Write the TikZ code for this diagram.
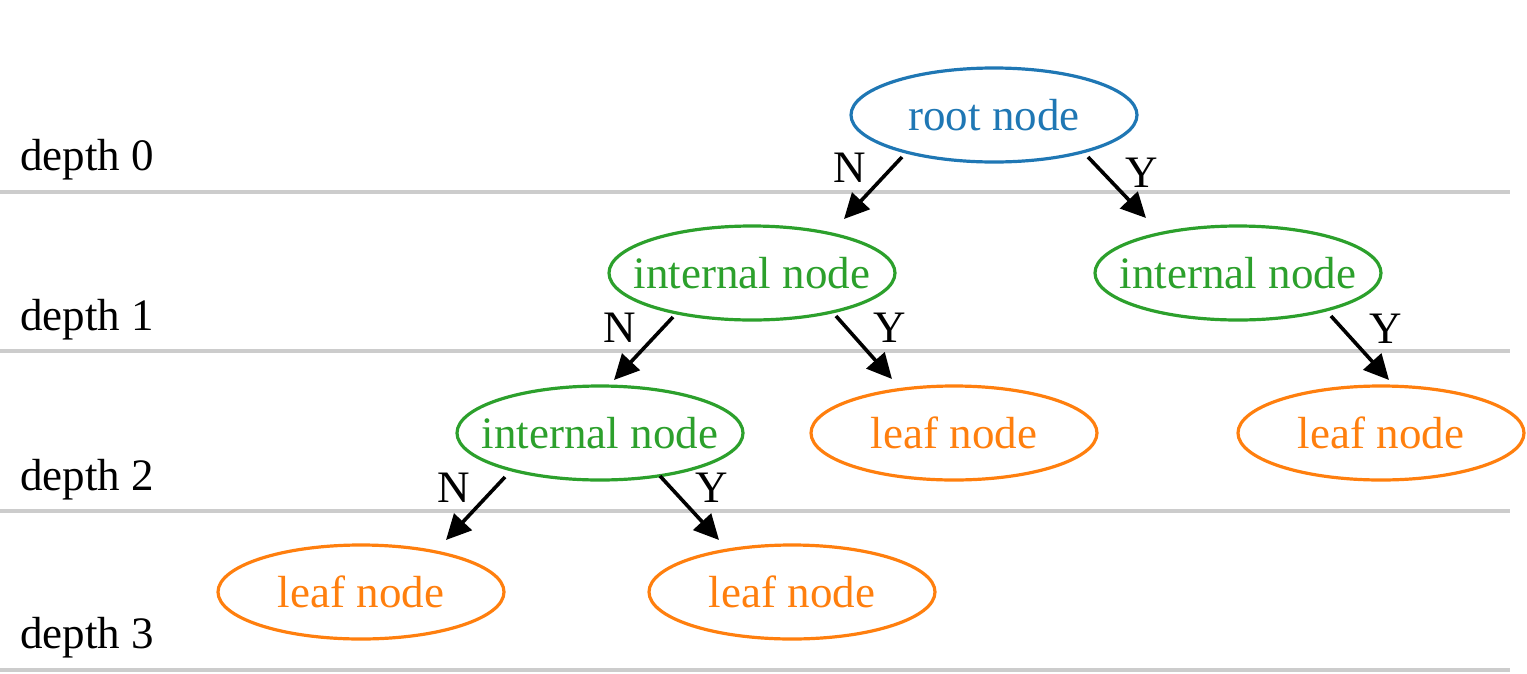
\documentclass[tikz,border=0pt]{standalone}
\usepackage{fontspec}
\setmainfont{Liberation Serif}
\usetikzlibrary{shapes.geometric,arrows.meta,calc}
\definecolor{tblue}{HTML}{1F77B4}
\definecolor{tgreen}{HTML}{2CA02C}
\definecolor{torange}{HTML}{FF7F0E}
\definecolor{rulegray}{HTML}{CCCCCC}
\tikzset{
  txt/.style={font=\fontsize{45}{54}\selectfont, inner sep=0pt},
  ell/.style={txt, ellipse, draw, line width=3.2pt, inner xsep=-40pt, inner ysep=0pt, minimum width=286pt, minimum height=94pt},
  rootnode/.style={ell, draw=tblue, text=tblue},
  internalnode/.style={ell, draw=tgreen, text=tgreen},
  leafnode/.style={ell, draw=torange, text=torange},
  arr/.style={line width=3.6pt, -{Triangle[length=25pt,width=24pt]}},
  rulel/.style={line width=4pt, rulegray},
  lab/.style={txt, anchor=base},
  depthlab/.style={txt, anchor=base west}
}
\begin{document}
\begin{tikzpicture}[x=1pt,y=-1pt]
\useasboundingbox (0,0) rectangle (1527,673);
% depth rules
\draw[rulel] (0,192) -- (1510,192);
\draw[rulel] (0,351) -- (1510,351);
\draw[rulel] (0,511) -- (1510,511);
\draw[rulel] (0,670) -- (1510,670);
% depth labels
\node[depthlab] (d0) at (20,170) {depth 0};
\node[depthlab] (d1) at (20,330) {depth 1};
\node[depthlab] (d2) at (20,490) {depth 2};
\node[depthlab] (d3) at (20,648) {depth 3};
% nodes
\node[rootnode] (root) at (994,115) {root node};
\node[internalnode] (i1) at (752,273) {internal node};
\node[internalnode] (i2) at (1238,273) {internal node};
\node[internalnode] (i3) at (600,433) {internal node};
\node[leafnode] (l1) at (954,433) {leaf node};
\node[leafnode] (l2) at (1381,433) {leaf node};
\node[leafnode] (l3) at (361,592) {leaf node};
\node[leafnode] (l4) at (792,592) {leaf node};
% arrows
\draw[arr] ($(root)+(-92,42)$) -- ($(i1)+(92,-54)$);
\draw[arr] ($(root)+(94,42)$) -- ($(i2)+(-92,-55)$);
\draw[arr] ($(i1)+(-79,44)$) -- ($(i3)+(14,-53)$);
\draw[arr] ($(i1)+(84,43)$) -- ($(l1)+(-62,-54)$);
\draw[arr] ($(i2)+(93,43)$) -- ($(l2)+(8,-53)$);
\draw[arr] ($(i3)+(-95,44)$) -- ($(l3)+(85,-52)$);
\draw[arr] ($(i3)+(60,43)$) -- ($(l4)+(-73,-52)$);
% edge labels
\node[lab] (n0) at (850,182) {N};
\node[lab] (y0) at (1142,187) {Y};
\node[lab] (n1) at (620,342) {N};
\node[lab] (y1) at (890,342) {Y};
\node[lab] (y2) at (1386,343) {Y};
\node[lab] (n2) at (454,502) {N};
\node[lab] (y3) at (712,502) {Y};
\end{tikzpicture}
\end{document}
